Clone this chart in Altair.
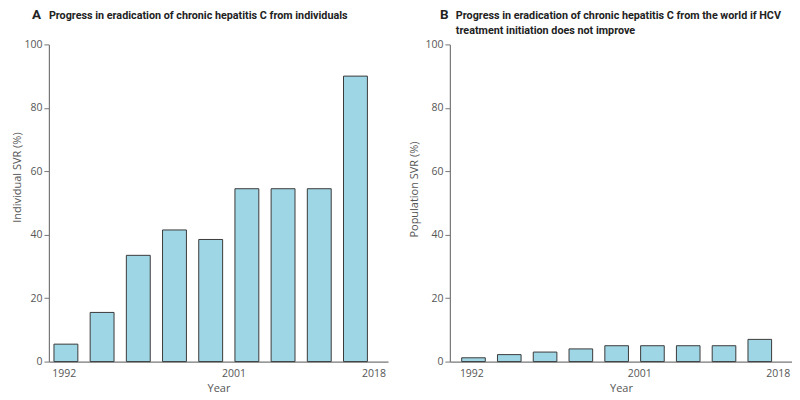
import altair as alt
import pandas as pd

# Data
bar_index = [0, 1, 2, 3, 4, 5, 6, 7, 8]
individual_svr = [5.5, 15.5, 33.5, 41.5, 38.5, 54.5, 54.5, 54.5, 90.0]
population_svr = [1.2, 2.2, 3.0, 4.0, 5.0, 5.0, 5.0, 5.0, 7.0]
year_labels = ["1992", "2001", "2018"]
year_tick_pos = [-0.06, 4.63, 8.5]
y_ticks = [0, 20, 40, 60, 80, 100]

title_a = "Progress in eradication of chronic hepatitis C from individuals"
title_b = "Progress in eradication of chronic hepatitis C from the world if HCV\ntreatment initiation does not improve"

FONT = "Open Sans"
TFONT = "Roboto"
FILL = "#9fd6e6"
STROKE = "#3a3a3a"
H = 318

label_expr = (
    f"datum.value < 2 ? '{year_labels[0]}' : datum.value < 6 ? '{year_labels[1]}' : '{year_labels[2]}'"
)


def panel(values, ytitle, title_text, letter, width, xmin, title_dx, letter_dx, ytitle_y, ytitle_pad):
    df = pd.DataFrame({"i": bar_index, "v": values})
    df["x0"] = df["i"] - 0.33
    df["x1"] = df["i"] + 0.33
    xscale = alt.Scale(domain=[xmin, 8.9], nice=False, zero=False)
    bars = alt.Chart(df).mark_bar(fill=FILL, stroke=STROKE, strokeWidth=1).encode(
        x=alt.X(
            "x0:Q",
            scale=xscale,
            axis=alt.Axis(
                values=year_tick_pos,
                labelExpr=label_expr,
                ticks=False,
                title="Year",
                labelPadding=7,
                titlePadding=3,
                grid=False,
            ),
        ),
        x2="x1",
        y=alt.Y(
            "v:Q",
            scale=alt.Scale(domain=[0, 100], nice=False),
            axis=alt.Axis(
                values=y_ticks,
                title=ytitle,
                tickSize=5,
                labelPadding=2,
                titlePadding=ytitle_pad,
                titleY=ytitle_y,
                grid=False,
            ),
        ),
        y2=alt.datum(0),
    )
    tdf = pd.DataFrame({"t": [title_text]})
    ttl = alt.Chart(tdf).mark_text(
        align="left", baseline="alphabetic", font=TFONT, fontSize=10.8,
        fontWeight="bold", color="#222", lineBreak="\n", lineHeight=15,
    ).encode(x=alt.value(title_dx), y=alt.value(-25), text="t:N")
    ldf = pd.DataFrame({"t": [letter]})
    let = alt.Chart(ldf).mark_text(
        align="left", baseline="alphabetic", font=TFONT, fontSize=13.5,
        fontWeight="bold", color="#222",
    ).encode(x=alt.value(letter_dx), y=alt.value(-25), text="t:N")
    return alt.layer(bars, ttl, let).properties(width=width, height=H)


a = panel(individual_svr, "Individual SVR (%)", title_a, "A", 340, -0.47, 0, -17, 133, 1)
b = panel(population_svr, "Population SVR (%)", title_b, "B", 343, -0.66, 6, -10, 145, 5)

chart = alt.hconcat(a, b, spacing=20).properties(
    padding={"left": 3, "top": 0, "right": 0, "bottom": 0}
).configure_view(
    stroke=None
).configure_axis(
    domainColor="#777",
    tickColor="#777",
    labelColor="#555",
    titleColor="#555",
    labelFont=FONT,
    titleFont=FONT,
    labelFontSize=10.5,
    titleFontSize=11,
    titleFontWeight="normal",
    domainWidth=1.2,
)

chart.save("out.html", embed_options={"renderer": "svg", "actions": False})
